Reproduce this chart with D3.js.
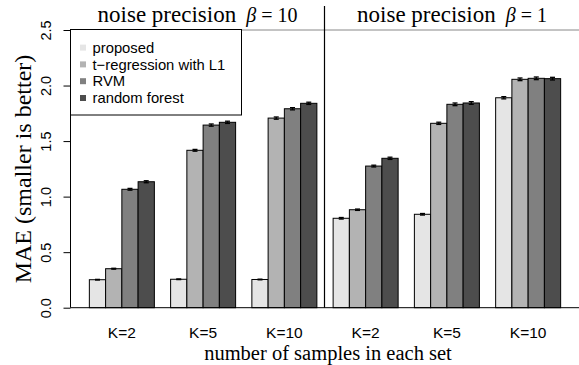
<!DOCTYPE html>
<html>
<head>
<meta charset="utf-8">
<script src="https://cdn.jsdelivr.net/npm/d3@7"></script>
<style>
  html, body { margin: 0; padding: 0; background: #fff; }
  svg { display: block; }
</style>
</head>
<body>
<div id="chart"></div>
<script>
// values
const groups = ['K=2', 'K=5', 'K=10', 'K=2', 'K=5', 'K=10'];
const methods = ['proposed', 't\u2212regression with L1', 'RVM', 'random forest'];
const colors = ['#e5e5e5', '#b3b3b3', '#808080', '#4d4d4d'];

const proposed = [0.252, 0.256, 0.254, 0.805, 0.841, 1.890];
const tRegression = [0.351, 1.417, 1.707, 0.882, 1.660, 2.056];
const rvm = [1.066, 1.644, 1.791, 1.275, 1.831, 2.065];
const randomForest = [1.134, 1.669, 1.840, 1.345, 1.843, 2.062];

const proposedErr = [0.003, 0.003, 0.003, 0.007, 0.007, 0.010];
const tRegressionErr = [0.004, 0.008, 0.010, 0.006, 0.010, 0.012];
const rvmErr = [0.008, 0.010, 0.010, 0.008, 0.012, 0.012];
const randomForestErr = [0.009, 0.010, 0.010, 0.010, 0.012, 0.012];

const panelTitles = ['noise precision', 'noise precision'];
const panelBetas = ['10', '1'];
const yTicks = [0, 0.5, 1.0, 1.5, 2.0, 2.5];

const series = [proposed, tRegression, rvm, randomForest];
const seriesErr = [proposedErr, tRegressionErr, rvmErr, randomForestErr];

const width = 579, height = 365;
const nBars = methods.length;
const groupUnits = nBars + 1; // one bar width of space before each group
const totalUnits = groups.length * groupUnits;
const pad = (totalUnits - 1) * 0.04;

// x in "bar units", like R's barplot
const x = d3.scaleLinear()
  .domain([1 - pad, totalUnits + pad])
  .range([70.5, 579.5]);

const y = d3.scaleLinear()
  .domain([0, 2.5])
  .range([307.7, 30]);

const serif = 'Liberation Serif, Times New Roman, serif';
const sans = 'Liberation Sans, Arial, Helvetica, sans-serif';

const svg = d3.select('#chart').append('svg')
  .attr('width', width)
  .attr('height', height);

// flatten data into bars
const bars = [];
groups.forEach((g, gi) => {
  series.forEach((s, si) => {
    const start = gi * groupUnits + 1 + si;
    bars.push({group: gi, method: si, start: start, value: s[gi], err: seriesErr[si][gi]});
  });
});

// top line of the plot region
svg.append('line')
  .attr('x1', x.range()[0]).attr('x2', width)
  .attr('y1', y(2.5)).attr('y2', y(2.5))
  .attr('stroke', '#888').attr('stroke-width', 1);

// bars
svg.append('g').selectAll('rect')
  .data(bars)
  .enter().append('rect')
  .attr('x', d => x(d.start))
  .attr('width', d => x(d.start + 1) - x(d.start))
  .attr('y', d => y(d.value))
  .attr('height', d => y(0) - y(d.value))
  .attr('fill', d => colors[d.method])
  .attr('stroke', '#000')
  .attr('stroke-width', 1);

// error bars
const eb = svg.append('g').attr('stroke', '#000').attr('stroke-width', 1.3);
bars.forEach(d => {
  const cx = x(d.start + 0.5);
  const y1 = y(d.value - d.err), y2 = y(d.value + d.err);
  eb.append('line').attr('x1', cx).attr('x2', cx).attr('y1', y1).attr('y2', y2);
  eb.append('line').attr('x1', cx - 2.5).attr('x2', cx + 2.5).attr('y1', y1).attr('y2', y1);
  eb.append('line').attr('x1', cx - 2.5).attr('x2', cx + 2.5).attr('y1', y2).attr('y2', y2);
});

// baseline
svg.append('line')
  .attr('x1', x.range()[0]).attr('x2', width)
  .attr('y1', y(0)).attr('y2', y(0))
  .attr('stroke', '#000').attr('stroke-width', 1);

// divider between the two panels
const half = groups.length / 2;
const divX = Math.floor(x(half * groupUnits + 0.5)) - 0.5;
svg.append('line')
  .attr('x1', divX).attr('x2', divX)
  .attr('y1', 6).attr('y2', y(0))
  .attr('stroke', '#000').attr('stroke-width', 1.2);

// y axis
const yAxis = svg.append('g')
  .attr('transform', 'translate(' + x.range()[0] + ',0)')
  .call(d3.axisLeft(y).tickValues(yTicks).tickSize(7).tickFormat(d3.format('.1f')));
yAxis.select('.domain')
  .attr('d', 'M0,' + y(0) + 'V' + y(2.5))
  .attr('stroke', '#000');
yAxis.selectAll('.tick line').attr('stroke', '#000');
yAxis.selectAll('.tick text')
  .attr('x', null).attr('dy', null)
  .attr('transform', 'translate(-20,0) rotate(-90)')
  .attr('text-anchor', 'middle')
  .attr('font-family', sans)
  .attr('font-size', 14.5)
  .attr('fill', '#000');

// group labels
svg.append('g').selectAll('text')
  .data(groups)
  .enter().append('text')
  .attr('x', (d, i) => x(i * groupUnits + 1 + nBars / 2))
  .attr('y', 338)
  .attr('text-anchor', 'middle')
  .attr('font-family', sans)
  .attr('font-size', 15.5)
  .text(d => d);

// axis titles
svg.append('text')
  .attr('transform', 'translate(31,169) rotate(-90)')
  .attr('text-anchor', 'middle')
  .attr('font-family', serif)
  .attr('font-size', 24)
  .text('MAE (smaller is better)');

svg.append('text')
  .attr('x', 328)
  .attr('y', 360)
  .attr('text-anchor', 'middle')
  .attr('font-family', serif)
  .attr('font-size', 20.5)
  .text('number of samples in each set');

// panel headers
const panelCenters = [
  (x.range()[0] + divX) / 2,
  (divX + x.range()[1]) / 2
];
panelTitles.forEach((t, i) => {
  const tx = svg.append('text')
    .attr('x', panelCenters[i])
    .attr('y', 22)
    .attr('text-anchor', 'middle')
    .attr('font-family', serif)
    .attr('font-size', 23);
  tx.append('tspan').text(t);
  tx.append('tspan').attr('dx', 10).attr('font-style', 'italic').attr('font-size', 20).text('\u03b2');
  tx.append('tspan').attr('dx', 5).attr('font-size', 20).text('=');
  tx.append('tspan').attr('dx', 5).attr('font-size', 20).text(panelBetas[i]);
});

// legend
const legend = svg.append('g');
legend.append('rect')
  .attr('x', x.range()[0]).attr('y', 29.5)
  .attr('width', 171).attr('height', 85.5)
  .attr('fill', '#fff').attr('stroke', '#000').attr('stroke-width', 1);
const items = legend.selectAll('g.item')
  .data(methods)
  .enter().append('g')
  .attr('class', 'item')
  .attr('transform', (d, i) => 'translate(0,' + (47.6 + i * 16.8) + ')');
items.append('rect')
  .attr('x', 80).attr('y', -3)
  .attr('width', 6).attr('height', 6)
  .attr('fill', (d, i) => colors[i]);
items.append('text')
  .attr('x', 92.5).attr('y', 5.2)
  .attr('font-family', sans)
  .attr('font-size', 14.8)
  .text(d => d);
</script>
</body>
</html>
